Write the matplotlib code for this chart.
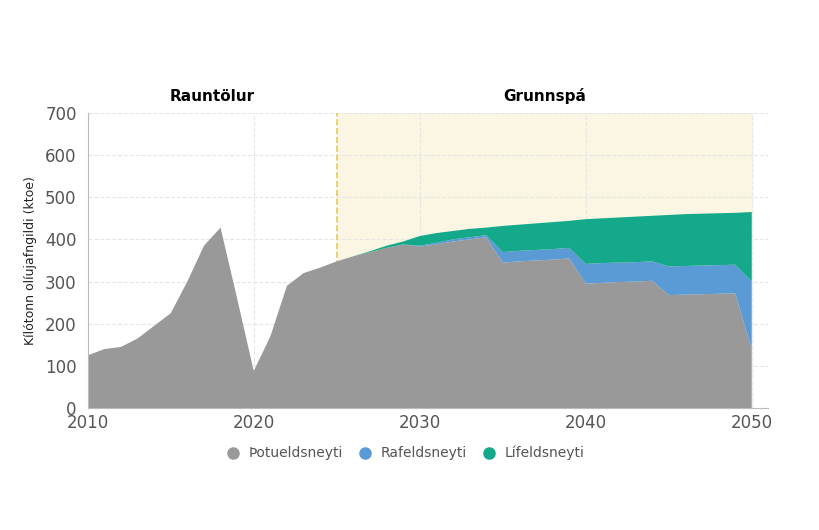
import numpy as np
import matplotlib.pyplot as plt
from matplotlib.lines import Line2D

ar = list(range(2010, 2051))
jardefni = [125, 140, 145, 165, 195, 225, 300, 385, 428, 260, 88, 170, 290, 320, 333,
            348, 360, 370, 380, 388, 383, 388, 395, 400, 405,
            345, 348, 350, 352, 355, 295, 297, 299, 300, 302,
            268, 269, 270, 271, 272, 140]
rafmagn = [0] * 20 + [2, 4, 5, 5, 5, 25, 25, 25, 25, 25, 47, 47, 46, 46, 46,
                      68, 68, 68, 68, 68, 160]
heild = [125, 140, 145, 165, 195, 225, 300, 385, 428, 260, 88, 170, 290, 320, 333,
         348, 360, 372, 385, 395, 408, 415, 420, 425, 428,
         432, 435, 438, 441, 444, 448, 450, 452, 454, 456,
         458, 460, 461, 462, 463, 465]
lif = [max(h - j - r, 0) for h, j, r in zip(heild, jardefni, rafmagn)]

fig, ax = plt.subplots(figsize=(8.2, 5.3), dpi=100)
fig.subplots_adjust(left=0.107, right=0.937, top=0.787, bottom=0.23)

ax.axvspan(2025, 2050, color='#faf6e3', zorder=0)
ax.axvline(2025, color='#e8c85a', linestyle='--', linewidth=1.2, zorder=1)
ax.stackplot(ar, jardefni, rafmagn, lif, colors=['#999999', '#5b9bd5', '#13a98a'], zorder=2)

ax.set_xlim(2010, 2051)
ax.set_ylim(0, 700)
ax.set_xticks([2010, 2020, 2030, 2040, 2050])
ax.set_yticks(range(0, 701, 100))
ax.grid(color='#e6e6e6', linestyle='--', linewidth=0.8)
ax.set_axisbelow(True)
for s in ['top', 'right']:
    ax.spines[s].set_visible(False)
ax.spines['left'].set_color('#bbbbbb')
ax.spines['bottom'].set_color('#bbbbbb')
ax.tick_params(colors='#555555', labelsize=12, length=0)
ax.tick_params(axis='y', pad=8)
ax.tick_params(axis='x', pad=4)
ax.set_ylabel('Kílótonn olíujafngildi (ktoe)', fontsize=9, color='#222222', labelpad=6)

ax.text(2017.5, 720, 'Rauntölur', ha='center', va='bottom', fontsize=11, fontweight='bold')
ax.text(2037.5, 720, 'Grunnspá', ha='center', va='bottom', fontsize=11, fontweight='bold')

handles = [Line2D([], [], marker='o', linestyle='', color=c, markersize=8)
           for c in ['#999999', '#5b9bd5', '#13a98a']]
fig.legend(handles, ['Þotueldsneyti', 'Rafeldsneyti', 'Lífeldsneyti'], loc='center',
           bbox_to_anchor=(0.49, 0.145), ncol=3, frameon=False, fontsize=10,
           handletextpad=0.1, columnspacing=0.6, labelcolor='#555555')

fig.savefig('out.png')
